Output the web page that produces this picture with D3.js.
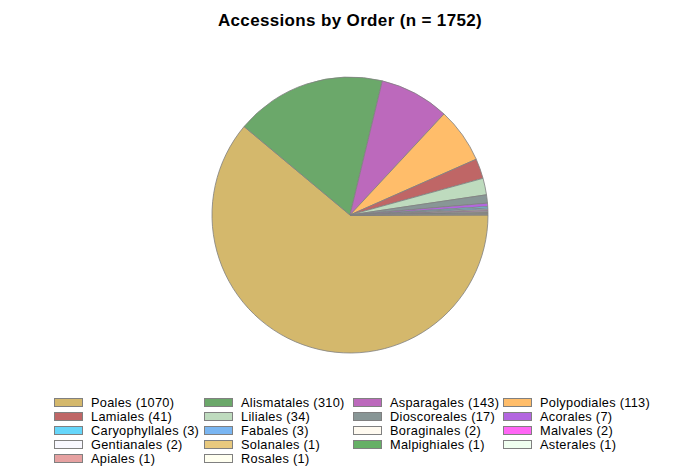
<!DOCTYPE html>
<html><head><meta charset="utf-8">
<script src="https://cdn.jsdelivr.net/npm/d3@7"></script>
<style>body{margin:0;background:#fff}</style>
</head><body>
<svg id="c" width="700" height="476"></svg>
<script>
const categories = ["Poales","Alismatales","Asparagales","Polypodiales","Lamiales","Liliales","Dioscoreales","Acorales","Caryophyllales","Fabales","Boraginales","Malvales","Gentianales","Solanales","Malpighiales","Asterales","Apiales","Rosales"];
const counts = [1070,310,143,113,41,34,17,7,3,3,2,2,2,1,1,1,1,1];
const colors = ["#D4B86C","#6BA86A","#BC69BC","#FFBD6A","#BF6666","#BEDBBE","#889696","#B366E0","#66D6FA","#7AB6F2","#FFFAF0","#FF66F5","#F8F8FF","#E8C97E","#66B066","#F0FFF0","#E6A1A1","#FFFFF0"];
const title = "Accessions by Order (n = 1752)";

const svg = d3.select("#c");
const font = "Liberation Sans, Arial, sans-serif";
svg.append("text").attr("x",350).attr("y",26).attr("text-anchor","middle")
  .attr("font-family",font).attr("font-weight","bold").attr("font-size",17)
  .attr("letter-spacing",0.35).text(title);

const data = categories.map((c,i)=>({name:c,value:counts[i],color:colors[i]}));
const pie = d3.pie().value(d=>d.value).sort(null)
  .startAngle(Math.PI/2).endAngle(Math.PI/2 + 2*Math.PI);
const arc = d3.arc().innerRadius(0).outerRadius(138);
const g = svg.append("g").attr("transform","translate(350,215)");
g.selectAll("path").data(pie(data)).join("path")
  .attr("d",arc).attr("fill",d=>d.data.color)
  .attr("stroke","#808080").attr("stroke-width",0.8);

const colX = [54,204,353,503];
const rowY0 = 398, rowH = 14;
const leg = svg.append("g");
data.forEach((d,i)=>{
  const c = i%4, r = Math.floor(i/4);
  const x = colX[c], y = rowY0 + r*rowH;
  leg.append("rect").attr("x",x+0.5).attr("y",y+0.5).attr("width",28).attr("height",8)
    .attr("fill",d.color).attr("stroke","#808080").attr("stroke-width",1);
  leg.append("text").attr("x",x+37).attr("y",y+9)
    .attr("font-family",font).attr("font-size",12.75).attr("letter-spacing",0.3).attr("fill","#000")
    .text(`${d.name} (${d.value})`);
});
</script>
</body></html>
